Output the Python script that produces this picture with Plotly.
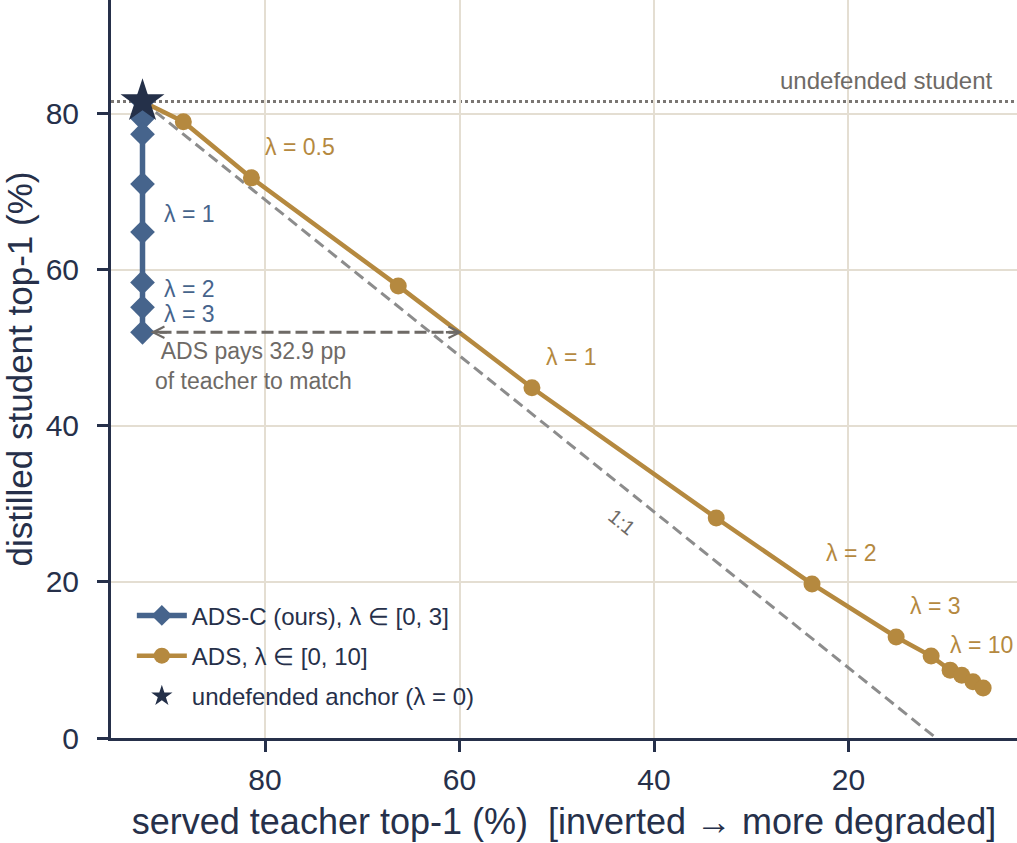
import plotly.graph_objects as go

# ---------------- data ----------------
anchor_teacher = 92.6      # undefended teacher top-1 (%)
anchor_student = 81.6      # undefended student top-1 (%)
undefended_student = 81.6  # dotted reference line

adsc_lambda = [0, 0.25, 0.5, 0.75, 1, 1.5, 2, 3]
adsc_teacher = [92.6, 92.6, 92.6, 92.6, 92.6, 92.6, 92.6, 92.6]
adsc_student = [81.6, 79.4, 77.4, 71.0, 64.85, 58.4, 55.2, 52.0]

ads_lambda = [0, 0.25, 0.5, 0.75, 1, 1.5, 2, 3, 4, 5, 6, 8, 10]
ads_teacher = [92.6, 88.4, 81.4, 66.3, 52.55, 33.6, 23.75, 15.1, 11.5, 9.55, 8.35, 7.2, 6.15]
ads_student = [81.6, 79.0, 71.8, 57.95, 44.9, 28.2, 19.75, 12.95, 10.5, 8.7, 8.05, 7.2, 6.4]

adsc_labeled = [1, 2, 3]
ads_labeled = [0.5, 1, 2, 3, 10]

gap_pp = 32.9  # teacher accuracy ADS pays to match ADS-C's student

x_ticks = [80, 60, 40, 20]
y_ticks = [0, 20, 40, 60, 80]

# ---------------- style ----------------
NAVY = "#26304a"
BLUE = "#46648c"
GOLD = "#b5893f"
STAR = "#243049"
GRAY = "#6e6a66"
GRID = "#e4ded2"
FONT = "Liberation Sans, Arial, sans-serif"

fig = go.Figure()

# 1:1 reference line through the anchor
one_x = [anchor_teacher, anchor_teacher - anchor_student]
one_y = [anchor_student, 0]
fig.add_trace(go.Scatter(x=one_x, y=one_y, mode="lines",
                         line=dict(color="#8c8c8c", width=3, dash="11px,6px"),
                         showlegend=False, hoverinfo="skip"))

# gap arrow (dashed shaft)
y_end = adsc_student[-1]
x_start = adsc_teacher[-1]
x_match = x_start - gap_pp
fig.add_trace(go.Scatter(x=[x_start, x_match], y=[y_end, y_end], mode="lines",
                         line=dict(color=GRAY, width=3, dash="12px,5px"),
                         showlegend=False, hoverinfo="skip"))

# ADS curve
fig.add_trace(go.Scatter(x=ads_teacher, y=ads_student, mode="lines+markers",
                         name="ADS, λ ∈ [0, 10]", legendgroup="b", legendrank=2,
                         line=dict(color=GOLD, width=4.5),
                         marker=dict(symbol="circle", size=17, color=GOLD)))

# ADS-C curve
fig.add_trace(go.Scatter(x=adsc_teacher, y=adsc_student, mode="lines+markers",
                         name="ADS-C (ours), λ ∈ [0, 3]", legendgroup="a", legendrank=1,
                         line=dict(color=BLUE, width=5.5),
                         marker=dict(symbol="diamond", size=19, color=BLUE)))

# undefended anchor
fig.add_trace(go.Scatter(x=[anchor_teacher], y=[anchor_student], mode="markers",
                         name="undefended anchor (λ = 0)", legendgroup="c", legendrank=3,
                         marker=dict(symbol="star", size=33, color=STAR)))

# undefended student dotted line
fig.add_shape(type="line", xref="paper", x0=0, x1=1, yref="y", layer="below",
              y0=undefended_student, y1=undefended_student,
              line=dict(color="#7a7673", width=3, dash="dot"))

ann = []
ann.append(dict(xref="paper", x=0.976, yref="y", y=undefended_student,
                text="undefended student", showarrow=False, xanchor="right",
                yanchor="bottom", yshift=5, font=dict(size=24, color=GRAY)))

for lam, tx, sy in zip(adsc_lambda, adsc_teacher, adsc_student):
    if lam in adsc_labeled:
        ann.append(dict(x=tx, y=sy, text=f"λ = {lam:g}", showarrow=False,
                        xanchor="left", yanchor="middle", xshift=19, yshift=18,
                        font=dict(size=23, color=BLUE)))

for lam, tx, sy in zip(ads_lambda, ads_teacher, ads_student):
    if lam in ads_labeled:
        xs, ys = (12, 31) if lam != 10 else (-35, 43)
        ann.append(dict(x=tx, y=sy, text=f"λ = {lam:g}", showarrow=False,
                        xanchor="left", yanchor="middle", xshift=xs, yshift=ys,
                        font=dict(size=23, color=GOLD)))

# arrow heads
ann.append(dict(x=x_match, y=y_end, ax=-18, ay=0, text="", showarrow=True,
                arrowhead=5, arrowsize=0.9, arrowwidth=2.5, arrowcolor=GRAY))
ann.append(dict(x=x_start, y=y_end, ax=26, ay=0, text="", showarrow=True, standoff=8,
                arrowhead=5, arrowsize=0.9, arrowwidth=2.5, arrowcolor=GRAY))

ann.append(dict(x=81.2, y=47.7, text="ADS pays 32.9 pp<br>of teacher to match",
                showarrow=False, xanchor="center", yanchor="middle",
                font=dict(size=23, color=GRAY)))

ann.append(dict(x=43.3, y=27.7, text="1:1", showarrow=False, textangle=39,
                font=dict(size=20, color=GRAY)))

fig.update_layout(
    width=1017, height=843,
    margin=dict(l=111, r=0, t=0, b=105),
    paper_bgcolor="white", plot_bgcolor="white",
    font=dict(family=FONT, color=NAVY),
    annotations=ann,
    showlegend=True,
    legend=dict(x=0.023, y=0.196, xanchor="left", yanchor="top",
                bgcolor="rgba(255,255,255,0)", font=dict(size=24, color=NAVY),
                tracegroupgap=6, itemwidth=50),
)

fig.update_xaxes(
    range=[95.84, 2.67], tickvals=x_ticks, ticktext=[str(v) for v in x_ticks],
    showgrid=True, gridcolor=GRID, gridwidth=2, zeroline=False,
    showline=True, linecolor=NAVY, linewidth=3,
    ticks="outside", ticklen=11, tickwidth=2.5, tickcolor=NAVY,
    tickfont=dict(size=30, color=NAVY), ticklabelstandoff=2,
    title=dict(text="served teacher top-1 (%)\u00a0 [inverted → more degraded]",
               font=dict(size=36, color=NAVY), standoff=14),
)
fig.update_yaxes(
    range=[0, 94.6], tickvals=y_ticks,
    showgrid=True, gridcolor=GRID, gridwidth=2, zeroline=False,
    showline=True, linecolor=NAVY, linewidth=3,
    ticks="outside", ticklen=11, tickwidth=2.5, tickcolor=NAVY,
    tickfont=dict(size=30, color=NAVY), ticklabelstandoff=12,
    title=dict(text="distilled student top-1 (%)", font=dict(size=35, color=NAVY), standoff=10),
)

fig.write_html("out.html")
